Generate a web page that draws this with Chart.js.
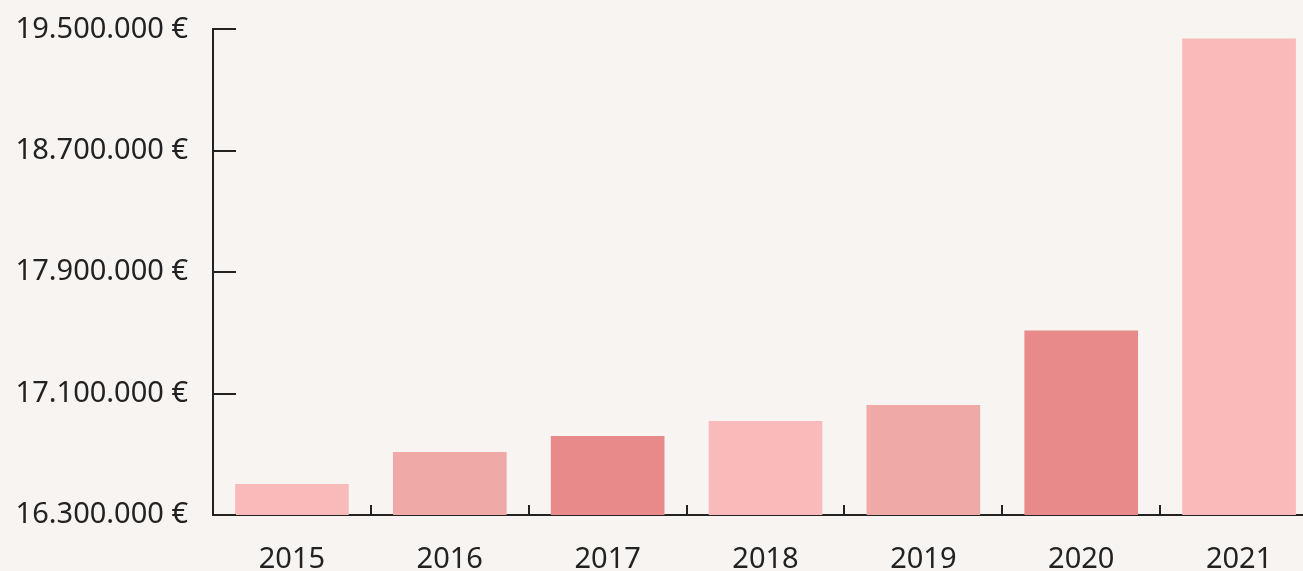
<!DOCTYPE html>
<html>
<head>
<meta charset="utf-8">
<script src="https://cdn.jsdelivr.net/npm/chart.js@4/dist/chart.umd.min.js"></script>
<style>
  html, body { margin: 0; padding: 0; width: 1303px; height: 571px; overflow: hidden; background: #f8f4f1; }
  #wrap { position: absolute; left: 0; top: -13px; width: 1318px; height: 584px; }
</style>
</head>
<body>
<div id="wrap"><canvas id="c" width="1318" height="584"></canvas></div>
<script>
const categories = ['2015', '2016', '2017', '2018', '2019', '2020', '2021'];
const values = [16505000, 16715000, 16820000, 16920000, 17025000, 17515000, 19440000];
const barColors = ['#f8bbba', '#efa9a6', '#e8898a', '#f8bbba', '#efa9a6', '#e8898a', '#f8bbba'];
const yMin = 16300000;
const yMax = 19500000;
const yStep = 800000;

function fmtEuro(v) {
  const s = Math.round(v).toString().replace(/\B(?=(\d{3})+(?!\d))/g, '.');
  return s + ' €';
}

const innerTicks = {
  id: 'innerTicks',
  afterDraw(chart) {
    const ctx = chart.ctx;
    const x = chart.scales.x, y = chart.scales.y;
    const left = chart.chartArea.left;
    ctx.save();
    ctx.strokeStyle = '#222222';
    ctx.lineWidth = 2;
    ctx.beginPath();
    y.ticks.forEach((t, i) => {
      const py = Math.round(y.getPixelForTick(i));
      ctx.moveTo(left, py);
      ctx.lineTo(left + 23, py);
    });
    const n = x.ticks.length;
    for (let i = 1; i <= n; i++) {
      const px = i < n ? (x.getPixelForTick(i - 1) + x.getPixelForTick(i)) / 2
                       : x.getPixelForTick(n - 1) + (x.getPixelForTick(n - 1) - x.getPixelForTick(n - 2)) / 2;
      ctx.moveTo(Math.round(px), x.top);
      ctx.lineTo(Math.round(px), x.top - 10);
    }
    ctx.stroke();
    ctx.restore();
  }
};

new Chart(document.getElementById('c'), {
  type: 'bar',
  data: {
    labels: categories,
    datasets: [{ data: values, backgroundColor: barColors, borderWidth: 0, barPercentage: 0.9, categoryPercentage: 0.8 }]
  },
  options: {
    responsive: false,
    animation: false,
    events: [],
    layout: { padding: { top: 16, right: 0, bottom: 0, left: 0 } },
    plugins: { legend: { display: false }, tooltip: { enabled: false } },
    scales: {
      x: {
        grid: { display: false, offset: true, tickLength: 0 },
        border: { display: true, color: '#222222', width: 2 },
        ticks: { color: '#222222', font: { family: 'Noto Sans', size: 29 }, padding: 27, maxRotation: 0 },
        afterFit(s) { s.height = 56; }
      },
      y: {
        min: yMin, max: yMax,
        grid: { display: false, tickLength: 0 },
        border: { display: true, color: '#222222', width: 2 },
        ticks: { stepSize: yStep, color: '#222222', font: { family: 'Noto Sans', size: 29 }, padding: 25, callback: v => fmtEuro(v) },
        afterFit(s) { s.width = 213; }
      }
    }
  },
  plugins: [innerTicks]
});
</script>
</body>
</html>
